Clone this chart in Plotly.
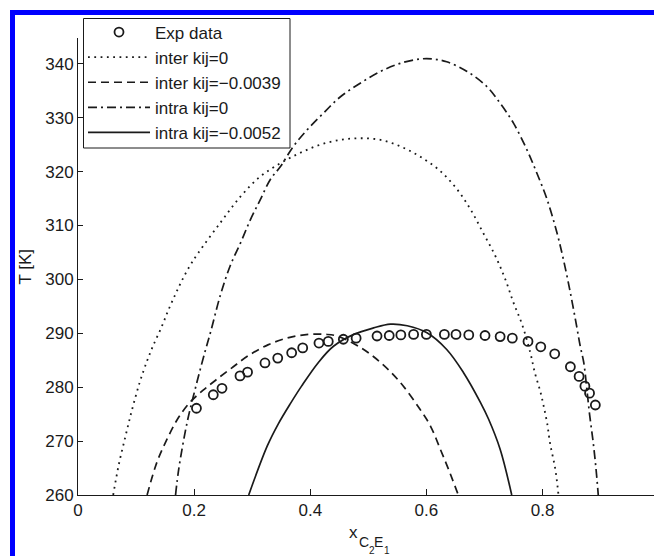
import plotly.graph_objects as go

# ---- data ----
exp_x = [0.204, 0.233, 0.248, 0.279, 0.292, 0.322, 0.344, 0.368, 0.387, 0.415, 0.431,
         0.457, 0.479, 0.515, 0.536, 0.556, 0.578, 0.600, 0.631, 0.651, 0.673, 0.701,
         0.727, 0.748, 0.775, 0.797, 0.821, 0.848, 0.863, 0.873, 0.881, 0.891]
exp_T = [276.1, 278.6, 279.8, 282.1, 282.8, 284.5, 285.4, 286.4, 287.3, 288.2, 288.5,
         288.9, 289.1, 289.5, 289.6, 289.7, 289.8, 289.8, 289.8, 289.8, 289.7, 289.6,
         289.4, 289.1, 288.5, 287.5, 286.2, 283.8, 282.0, 280.2, 278.9, 276.7]

inter0_x = [0.0606, 0.070, 0.082, 0.093, 0.106, 0.119, 0.129, 0.144, 0.156, 0.168,
            0.179, 0.192, 0.207, 0.245, 0.280, 0.314, 0.349, 0.383, 0.417, 0.452, 0.486,
            0.521, 0.555, 0.589, 0.624, 0.653, 0.676, 0.698, 0.719, 0.736, 0.750, 0.765,
            0.779, 0.787, 0.796, 0.802, 0.808, 0.813, 0.822, 0.8275]
inter0_T = [260.0, 265.5, 271.0, 275.8, 280.8, 284.9, 287.6, 291.2, 294.4, 297.3,
            299.8, 302.4, 304.9, 310.5, 315.4, 319.1, 321.6, 323.5, 325.0, 325.9, 326.2,
            325.9, 324.7, 322.8, 320.1, 316.7, 313.0, 308.6, 304.3, 300.0, 295.7, 291.6,
            286.4, 282.6, 279.3, 276.5, 273.3, 269.6, 264.8, 260.0]

inter39_x = [0.119, 0.136, 0.1535, 0.171, 0.192, 0.215, 0.237, 0.265, 0.294, 0.328, 0.363,
             0.397, 0.426, 0.446, 0.486, 0.521, 0.555, 0.589, 0.607, 0.624, 0.638, 0.655]
inter39_T = [260.0, 266.1, 270.4, 274.0, 277.1, 279.4, 281.3, 283.6, 285.9, 287.9, 289.2,
             289.8, 289.8, 289.5, 287.4, 284.6, 280.9, 275.9, 272.8, 268.5, 264.8, 260.0]

intra0_x = [0.168, 0.1735, 0.188, 0.205, 0.219, 0.228, 0.245, 0.262, 0.280, 0.297, 0.314,
            0.331, 0.349, 0.371, 0.395, 0.423, 0.452, 0.486, 0.521, 0.555, 0.589, 0.612,
            0.635, 0.670, 0.704, 0.727, 0.750, 0.773, 0.790, 0.808, 0.825, 0.836, 0.848,
            0.859, 0.865, 0.871, 0.876, 0.881, 0.887, 0.892, 0.896]
intra0_T = [260.0, 264.8, 273.5, 281.0, 286.7, 290.1, 297.0, 302.5, 306.8, 311.1, 314.8,
            318.5, 321.0, 324.7, 327.8, 330.9, 333.9, 336.4, 338.6, 340.1, 340.9, 340.9,
            340.4, 338.6, 335.8, 332.7, 329.0, 324.1, 319.8, 314.8, 308.6, 303.7, 297.5,
            291.2, 287.6, 284.6, 280.0, 275.0, 270.0, 265.0, 260.0]

intra52_x = [0.294, 0.326, 0.345, 0.366, 0.385, 0.414, 0.440, 0.475, 0.509, 0.538, 0.567,
             0.601, 0.635, 0.664, 0.693, 0.707, 0.727, 0.747]
intra52_T = [260.0, 269.1, 273.2, 277.0, 280.2, 284.6, 287.6, 289.8, 291.0, 291.7, 291.4,
             290.1, 287.0, 282.7, 277.2, 274.1, 268.5, 260.0]

x_ticks = [0, 0.2, 0.4, 0.6, 0.8]
x_ticklabels = ["0", "0.2", "0.4", "0.6", "0.8"]
y_ticks = [260, 270, 280, 290, 300, 310, 320, 330, 340]

FONT = "Arial, Liberation Sans, Helvetica, sans-serif"
INK = "#1a1a1a"

fig = go.Figure()
fig.add_trace(go.Scatter(x=exp_x, y=exp_T, mode="markers", name="Exp data",
                         marker=dict(symbol="circle-open", size=9, color=INK,
                                     line=dict(width=1.8, color=INK))))
fig.add_trace(go.Scatter(x=inter0_x, y=inter0_T, mode="lines", name="inter kij=0",
                         line=dict(color=INK, width=1.8, dash="1.8px,4.5px", shape="spline")))
fig.add_trace(go.Scatter(x=inter39_x, y=inter39_T, mode="lines", name="inter kij=\u22120.0039",
                         line=dict(color=INK, width=1.7, dash="8px,5px", shape="spline")))
fig.add_trace(go.Scatter(x=intra0_x, y=intra0_T, mode="lines", name="intra kij=0",
                         line=dict(color=INK, width=1.7, dash="9px,4px,2px,4px", shape="spline")))
fig.add_trace(go.Scatter(x=intra52_x, y=intra52_T, mode="lines", name="intra kij=\u22120.0052",
                         line=dict(color=INK, width=1.7, shape="spline")))

# plot area: x 78..654, y 38..495
L, R, T, B = 78, 654, 38, 495
W, H = R - L, B - T
def px(xp):
    return (xp - L) / W
def py(yp):
    return (B - yp) / H

shapes = [
    dict(type="rect", xref="paper", yref="paper", x0=px(10), x1=px(15), y0=py(560), y1=py(10),
         fillcolor="#0000ff", line=dict(width=0), layer="above"),
    dict(type="rect", xref="paper", yref="paper", x0=px(10), x1=px(660), y0=py(15), y1=py(10),
         fillcolor="#0000ff", line=dict(width=0), layer="above"),
    # legend frame
    dict(type="rect", xref="paper", yref="paper", x0=px(83.5), x1=px(290), y0=py(148), y1=py(18.5),
         fillcolor="white", line=dict(width=1, color=INK), layer="above"),
]

annotations = [
    dict(text="T [K]", textangle=-90, xref="paper", yref="paper", x=px(25), y=py(266.5),
         showarrow=False, font=dict(family=FONT, size=17, color=INK), xanchor="center", yanchor="middle"),
    dict(text="x", xref="paper", yref="paper", x=px(347), y=py(532), showarrow=False,
         font=dict(family=FONT, size=17, color=INK), xanchor="left", yanchor="middle"),
    dict(text="C", xref="paper", yref="paper", x=px(357), y=py(542), showarrow=False,
         font=dict(family=FONT, size=14, color=INK), xanchor="left", yanchor="middle"),
    dict(text="2", xref="paper", yref="paper", x=px(367), y=py(550), showarrow=False,
         font=dict(family=FONT, size=10, color=INK), xanchor="left", yanchor="middle"),
    dict(text="E", xref="paper", yref="paper", x=px(372), y=py(542), showarrow=False,
         font=dict(family=FONT, size=14, color=INK), xanchor="left", yanchor="middle"),
    dict(text="1", xref="paper", yref="paper", x=px(382), y=py(550), showarrow=False,
         font=dict(family=FONT, size=10, color=INK), xanchor="left", yanchor="middle"),
]

fig.update_layout(
    width=654, height=556,
    margin=dict(l=L, r=654 - R, t=T, b=556 - B, pad=0),
    paper_bgcolor="white", plot_bgcolor="white",
    font=dict(family=FONT, size=17, color=INK),
    showlegend=True,
    legend=dict(x=px(83), y=py(14.5), xanchor="left", yanchor="top",
                bgcolor="rgba(0,0,0,0)", borderwidth=0,
                font=dict(family=FONT, size=17, color=INK),
                itemwidth=62, tracegroupgap=0),
    shapes=shapes,
    annotations=annotations,
)
fig.update_xaxes(range=[0, 0.992], tickvals=x_ticks, ticktext=x_ticklabels,
                 showgrid=False, zeroline=False, showline=True, linecolor=INK, linewidth=1,
                 ticks="inside", ticklen=6, tickcolor=INK, tickwidth=1, mirror=False,
                 tickfont=dict(family=FONT, size=17, color=INK))
fig.update_yaxes(range=[260, 344.8], tickvals=y_ticks,
                 showgrid=False, zeroline=False, showline=True, linecolor=INK, linewidth=1,
                 ticks="inside", ticklen=5, tickcolor=INK, tickwidth=1, mirror=False,
                 tickfont=dict(family=FONT, size=17, color=INK))

fig.write_html("out.html", config={"displayModeBar": False},
               post_script="document.body.style.margin='0px';document.body.style.overflow='hidden';")
